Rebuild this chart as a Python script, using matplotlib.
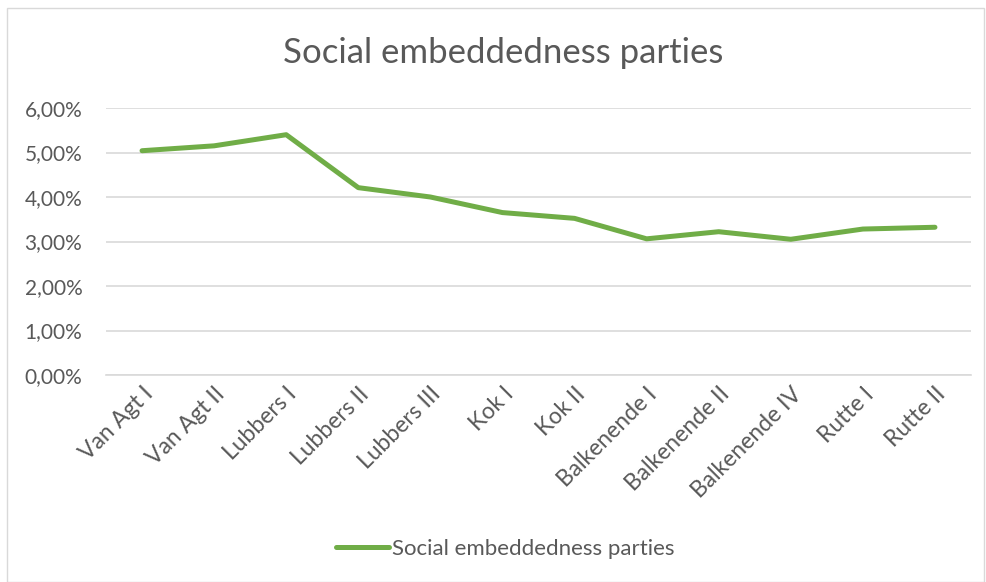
import matplotlib.pyplot as plt
from matplotlib.ticker import FuncFormatter
from matplotlib.patches import Rectangle

plt.rcParams['font.family'] = ['Lato', 'DejaVu Sans']

# data
cabinets = ["Van Agt I", "Van Agt II", "Lubbers I", "Lubbers II", "Lubbers III",
            "Kok I", "Kok II", "Balkenende I", "Balkenende II", "Balkenende IV",
            "Rutte I", "Rutte II"]
embeddedness = [5.04, 5.15, 5.40, 4.21, 4.00, 3.65, 3.52, 3.06, 3.22, 3.05, 3.28, 3.32]
yticks = [0, 1, 2, 3, 4, 5, 6]

green = "#70AD47"
txt = "#595959"
grid = "#D9D9D9"

fig = plt.figure(figsize=(9.87, 5.82), dpi=100)
ax = fig.add_axes([106/987, 1-375/582, (971-106)/987, (375-108)/582])

# chart area border
fig.patches.append(Rectangle((7/987, 0), 1-7/987-3/987, 1-8/582, transform=fig.transFigure,
                             fill=False, edgecolor=grid, linewidth=1))

x = range(len(cabinets))
ax.plot(x, embeddedness, color=green, linewidth=3.6, solid_capstyle='round',
        solid_joinstyle='round', label="Social embeddedness parties")

ax.set_xlim(-0.5, len(cabinets) - 0.5)
ax.set_ylim(0, 6)
ax.set_yticks(yticks)
ax.yaxis.set_major_formatter(FuncFormatter(lambda v, p: f"{v:.2f}%".replace(".", ",")))
ax.set_xticks(list(x))
ax.set_xticklabels(cabinets, rotation=45, ha='right', va='top', rotation_mode='anchor')

ax.grid(axis='y', color=grid, linewidth=1.2)
ax.set_axisbelow(True)
for s in ["top", "right", "left"]:
    ax.spines[s].set_visible(False)
ax.spines["bottom"].set_color(grid)
ax.spines["bottom"].set_linewidth(1.2)
ax.tick_params(axis='both', length=0, labelcolor=txt)
ax.tick_params(axis='y', pad=17, labelsize=15)
ax.tick_params(axis='x', pad=6, labelsize=16.5)

fig.text(503/987, 1-53/582, "Social embeddedness parties", ha='center', va='center',
         fontsize=25, color=txt)

fig.legend(loc='center', bbox_to_anchor=(505/987, 1-549/582), frameon=False,
           fontsize=16, labelcolor=txt, handlelength=2.4, handletextpad=0.1)

fig.savefig("out.png", dpi=100)
